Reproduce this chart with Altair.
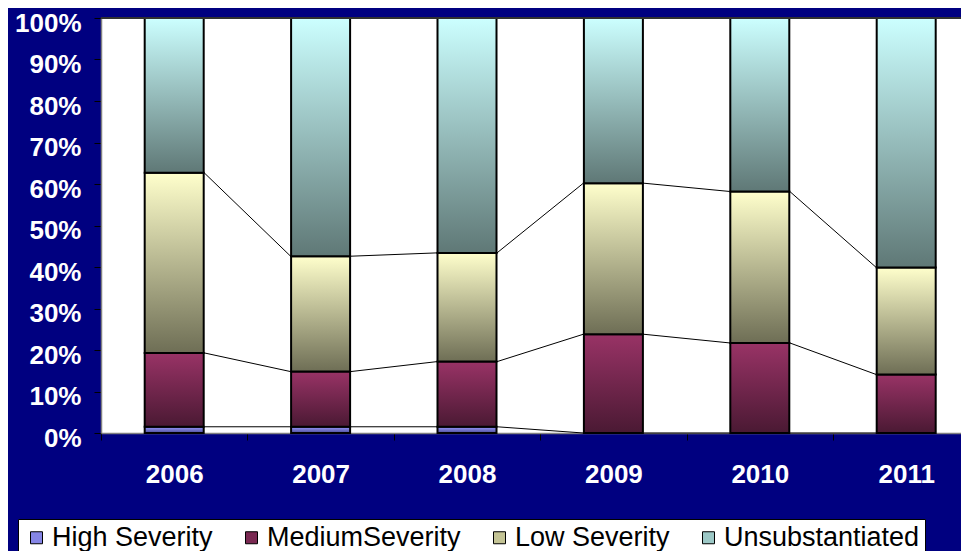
import altair as alt
import pandas as pd

# ---- data ----
years = ["2006", "2007", "2008", "2009", "2010", "2011"]
series = ["High Severity", "MediumSeverity", "Low Severity", "Unsubstantiated"]
high = [1.5, 1.5, 1.5, 0.0, 0.0, 0.0]
medium = [17.8, 13.3, 15.7, 23.8, 21.7, 14.1]
low = [43.4, 27.8, 26.2, 36.4, 36.5, 25.8]
unsub = [37.3, 57.4, 56.6, 39.8, 41.8, 60.1]
y_ticks = [0, 0.1, 0.2, 0.3, 0.4, 0.5, 0.6, 0.7, 0.8, 0.9, 1.0]

# ---- styling ----
grad_top = ["#9999FF", "#993366", "#FFFFCC", "#CCFFFF"]
grad_bottom = ["#4D4D99", "#4A1933", "#6E6E55", "#5F7876"]
legend_colors = ["#8585E6", "#7A2952", "#C4C495", "#9CC8C6"]

rows = []
bounds = []  # cumulative boundaries per year
for i, yr in enumerate(years):
    vals = [high[i], medium[i], low[i], unsub[i]]
    total = sum(vals)
    cum = 0.0
    b = []
    for s, v in zip(series, vals):
        rows.append({"year": yr, "series": s, "y0": cum / total, "y1": (cum + v) / total})
        cum += v
        b.append(cum / total)
    bounds.append(b)
df = pd.DataFrame(rows)

seg = []
for i in range(len(years) - 1):
    for k in range(3):
        seg.append({"year_a": years[i], "year_b": years[i + 1],
                    "ya": bounds[i][k], "yb": bounds[i + 1][k]})
seg_df = pd.DataFrame(seg)


def grad(top, bottom):
    return {"gradient": "linear", "x1": 0, "y1": 0, "x2": 0, "y2": 1,
            "stops": [{"offset": 0, "color": top}, {"offset": 1, "color": bottom}]}


conditions = [
    {"test": f"datum.series === '{s}'", "value": grad(t, b)}
    for s, t, b in zip(series, grad_top, grad_bottom)
]

xscale = alt.Scale(domain=years, range=[0, 878.4], paddingInner=0, paddingOuter=0)
yscale = alt.Scale(domain=[0, 1], nice=False)

bars = alt.Chart(df).mark_bar(size=59, stroke="black", strokeWidth=2).encode(
    x=alt.X("year:N", scale=xscale, sort=years,
            axis=alt.Axis(title=None, labelAngle=0, labelPadding=21, tickBand="extent",
                          labelAlign="center", labelBaseline="top")),
    y=alt.Y("y0:Q", scale=yscale,
            axis=alt.Axis(title=None, values=y_ticks, format=".0%", labelPadding=13,
                          labelOffset=5)),
    y2="y1:Q",
    color=alt.Color(
        "series:N",
        scale=alt.Scale(domain=series, range=legend_colors),
        legend=alt.Legend(
            title=None, orient="none", direction="horizontal",
            legendX=-83, legendY=501,
            fillColor="white", strokeColor="black", padding=5,
            symbolType="square", symbolSize=144,
            symbolStrokeColor="black", symbolStrokeWidth=1,
            labelFont="Liberation Sans", labelFontSize=27, labelColor="black",
            labelOffset=2, columnPadding=25, labelLimit=0,
        ),
        condition=conditions,
    ),
)

rules = alt.Chart(seg_df).mark_rule(color="black", strokeWidth=1, xOffset=30, x2Offset=-30).encode(
    x=alt.X("year_a:N", scale=xscale, sort=years),
    x2="year_b:N",
    y=alt.Y("ya:Q", scale=yscale),
    y2="yb:Q",
)

top_line = alt.Chart(pd.DataFrame({"v": [1.0]})).mark_rule(color="#303030", strokeWidth=2).encode(
    y=alt.Y("v:Q", scale=yscale)
)

chart = alt.layer(rules, bars, top_line).properties(
    width=860, height=415,
    background="#000080",
    padding={"left": 93, "top": 10, "right": 0, "bottom": 118},
    autosize=alt.AutoSizeParams(type="none"),
).configure_view(
    fill="white", strokeOpacity=0
).configure_axis(
    domainColor="#808080", domainWidth=1.5,
    tickColor="black", tickSize=7, tickWidth=1,
    labelColor="white", labelFont="Liberation Sans", labelFontSize=26,
    labelFontWeight="bold", grid=False,
)

chart.save("out.html", embed_options={"renderer": "svg", "actions": False})
